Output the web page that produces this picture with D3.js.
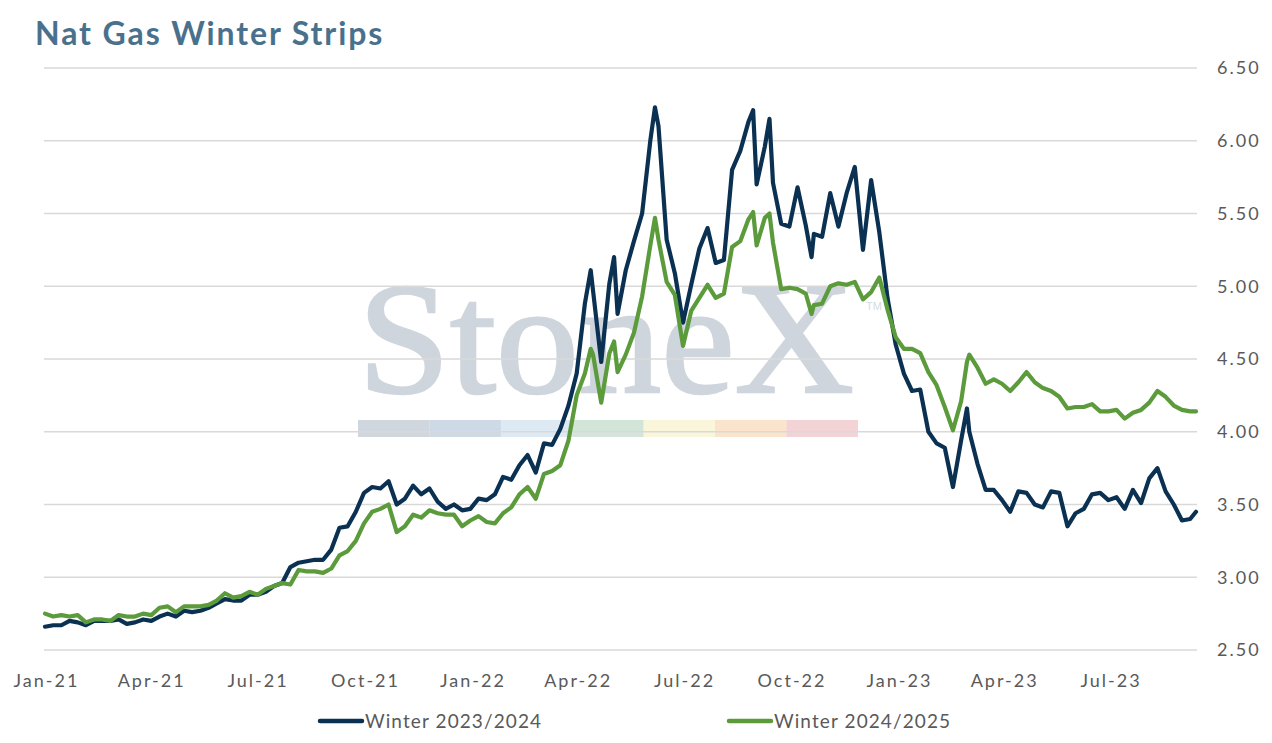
<!DOCTYPE html>
<html>
<head>
<meta charset="utf-8">
<script src="https://cdn.jsdelivr.net/npm/d3@7"></script>
<style>
  body { margin: 0; background: #fff; }
  svg { display: block; font-family: Lato, "Open Sans", sans-serif; }
</style>
</head>
<body>
<div id="chart"></div>
<script>
// Nat gas winter strips, weekly closes (plus a few extremes)

const dates = [
  '2021-01-01','2021-01-08','2021-01-15','2021-01-22','2021-01-29','2021-02-05','2021-02-12','2021-02-19','2021-02-26','2021-03-05',
  '2021-03-12','2021-03-19','2021-03-26','2021-04-02','2021-04-09','2021-04-16','2021-04-23','2021-04-30','2021-05-07','2021-05-14',
  '2021-05-21','2021-05-28','2021-06-04','2021-06-11','2021-06-18','2021-06-25','2021-07-02','2021-07-09','2021-07-16','2021-07-23',
  '2021-07-30','2021-08-06','2021-08-13','2021-08-20','2021-08-27','2021-09-03','2021-09-10','2021-09-17','2021-09-24','2021-10-01',
  '2021-10-08','2021-10-15','2021-10-22','2021-10-29','2021-11-05','2021-11-12','2021-11-19','2021-11-26','2021-12-03','2021-12-10',
  '2021-12-17','2021-12-24','2021-12-31','2022-01-07','2022-01-14','2022-01-21','2022-01-28','2022-02-04','2022-02-11','2022-02-18',
  '2022-02-25','2022-03-04','2022-03-11','2022-03-18','2022-03-25','2022-04-01','2022-04-08','2022-04-13','2022-04-15','2022-04-22',
  '2022-04-29','2022-05-03','2022-05-06','2022-05-13','2022-05-20','2022-05-27','2022-06-03','2022-06-07','2022-06-10','2022-06-17',
  '2022-06-24','2022-07-01','2022-07-08','2022-07-15','2022-07-22','2022-07-29','2022-08-05','2022-08-12','2022-08-19','2022-08-26',
  '2022-08-30','2022-09-02','2022-09-09','2022-09-13','2022-09-16','2022-09-23','2022-09-30','2022-10-07','2022-10-14','2022-10-19',
  '2022-10-21','2022-10-28','2022-11-04','2022-11-11','2022-11-18','2022-11-25','2022-12-02','2022-12-09','2022-12-16','2022-12-23',
  '2022-12-30','2023-01-06','2023-01-13','2023-01-20','2023-01-27','2023-02-03','2023-02-10','2023-02-17','2023-02-24','2023-03-01',
  '2023-03-03','2023-03-10','2023-03-17','2023-03-24','2023-03-31','2023-04-07','2023-04-14','2023-04-21','2023-04-28','2023-05-05',
  '2023-05-12','2023-05-19','2023-05-26','2023-06-02','2023-06-09','2023-06-16','2023-06-23','2023-06-30','2023-07-07','2023-07-14',
  '2023-07-21','2023-07-28','2023-08-04','2023-08-11','2023-08-18','2023-08-25','2023-09-01','2023-09-08','2023-09-13'
];

const winter2324 = [
  2.66, 2.67, 2.67, 2.70, 2.69, 2.67, 2.70, 2.70, 2.70, 2.71,
  2.68, 2.69, 2.71, 2.70, 2.73, 2.75, 2.73, 2.77, 2.76, 2.77,
  2.79, 2.82, 2.85, 2.84, 2.84, 2.88, 2.88, 2.90, 2.94, 2.96,
  3.07, 3.10, 3.11, 3.12, 3.12, 3.19, 3.34, 3.35, 3.45, 3.58,
  3.62, 3.61, 3.66, 3.50, 3.54, 3.63, 3.57, 3.61, 3.52, 3.47,
  3.50, 3.46, 3.47, 3.54, 3.53, 3.57, 3.69, 3.67, 3.77, 3.84,
  3.72, 3.92, 3.91, 4.02, 4.18, 4.40, 4.88, 5.11, 4.97, 4.48,
  5.02, 5.20, 4.81, 5.11, 5.31, 5.50, 6.00, 6.23, 6.10, 5.32,
  5.09, 4.75, 5.01, 5.26, 5.40, 5.16, 5.18, 5.80, 5.93, 6.13,
  6.21, 5.70, 5.96, 6.15, 5.71, 5.43, 5.41, 5.68, 5.42, 5.20,
  5.36, 5.34, 5.64, 5.41, 5.64, 5.82, 5.25, 5.73, 5.37, 4.92,
  4.60, 4.40, 4.28, 4.29, 4.00, 3.92, 3.89, 3.62, 3.94, 4.16,
  4.00, 3.78, 3.60, 3.60, 3.53, 3.45, 3.59, 3.58, 3.50, 3.48,
  3.59, 3.58, 3.35, 3.44, 3.47, 3.57, 3.58, 3.53, 3.55, 3.47,
  3.60, 3.51, 3.68, 3.75, 3.59, 3.50, 3.39, 3.40, 3.45
];

const winter2425 = [
  2.75, 2.73, 2.74, 2.73, 2.74, 2.69, 2.71, 2.71, 2.70, 2.74,
  2.73, 2.73, 2.75, 2.74, 2.79, 2.80, 2.76, 2.80, 2.80, 2.80,
  2.81, 2.84, 2.89, 2.86, 2.87, 2.90, 2.88, 2.92, 2.94, 2.96,
  2.95, 3.05, 3.04, 3.04, 3.03, 3.06, 3.15, 3.18, 3.25, 3.37,
  3.45, 3.47, 3.50, 3.31, 3.35, 3.43, 3.41, 3.46, 3.44, 3.43,
  3.43, 3.35, 3.39, 3.42, 3.38, 3.37, 3.44, 3.48, 3.57, 3.62,
  3.54, 3.71, 3.73, 3.77, 3.94, 4.25, 4.40, 4.57, 4.53, 4.20,
  4.54, 4.62, 4.41, 4.53, 4.68, 4.93, 5.28, 5.47, 5.32, 5.03,
  4.94, 4.59, 4.83, 4.92, 5.01, 4.92, 4.95, 5.27, 5.31, 5.46,
  5.51, 5.28, 5.47, 5.50, 5.30, 4.98, 4.99, 4.98, 4.95, 4.81,
  4.87, 4.88, 5.00, 5.02, 5.01, 5.03, 4.91, 4.96, 5.06, 4.84,
  4.65, 4.57, 4.57, 4.54, 4.41, 4.32, 4.17, 4.01, 4.21, 4.48,
  4.53, 4.44, 4.33, 4.36, 4.33, 4.28, 4.34, 4.41, 4.34, 4.30,
  4.28, 4.24, 4.16, 4.17, 4.17, 4.19, 4.14, 4.14, 4.15, 4.09,
  4.13, 4.15, 4.20, 4.28, 4.24, 4.18, 4.15, 4.14, 4.14
];

const seriesNames = ['Winter 2023/2024', 'Winter 2024/2025'];
const seriesColors = ['#0b3152', '#5b9b3b'];

const tickDates = ['2021-01-01','2021-04-01','2021-07-01','2021-10-01','2022-01-01','2022-04-01',
                   '2022-07-01','2022-10-01','2023-01-01','2023-04-01','2023-07-01'];
const yTicks = [2.5, 3.0, 3.5, 4.0, 4.5, 5.0, 5.5, 6.0, 6.5];

(function() {
  const W = 1272, H = 743;
  const plot = { left: 44, right: 1197, top: 68, bottom: 650 };
  const parse = d3.timeParse('%Y-%m-%d');

  const svg = d3.select('#chart').append('svg')
    .attr('width', W)
    .attr('height', H);

  // x: first date sits at 45, the last one near the right end of the grid
  const x = d3.scaleTime()
    .domain([parse(dates[0]), parse(dates[dates.length - 1])])
    .range([45, 1196]);

  const y = d3.scaleLinear()
    .domain([2.5, 6.5])
    .range([plot.bottom, plot.top]);

  // Title
  svg.append('text')
    .attr('x', 35)
    .attr('y', 45)
    .style('font-size', '32px')
    .style('font-weight', 'bold')
    .style('letter-spacing', '1.9px')
    .style('fill', '#4a718c')
    .text('Nat Gas Winter Strips');

  // StoneX watermark
  const wm = svg.append('g').attr('class', 'watermark');
  wm.append('text')
    .attr('x', 358)
    .attr('y', 392)
    .attr('textLength', 496)
    .attr('lengthAdjust', 'spacingAndGlyphs')
    .style('font-family', '"Liberation Serif", "DejaVu Serif", serif')
    .style('font-size', '158px')
    .style('fill', '#cfd5dd')
    .style('stroke', '#cfd5dd')
    .style('stroke-width', 2.5)
    .text('StoneX');
  wm.append('text')
    .attr('x', 866)
    .attr('y', 310)
    .style('font-family', '"Liberation Sans", sans-serif')
    .style('font-size', '11px')
    .style('fill', '#d6dbe2')
    .text('TM');
  const bandColors = ['#d0d6dd', '#cdd9e5', '#deeaf3', '#d3e4d8', '#faf6dc', '#fae5cc', '#f3d3d5'];
  wm.selectAll('rect')
    .data(bandColors)
    .enter()
    .append('rect')
    .attr('x', (d, i) => 358 + i * 71.4)
    .attr('y', 420)
    .attr('width', 71.6)
    .attr('height', 17)
    .attr('fill', d => d);

  // Horizontal grid
  svg.append('g')
    .selectAll('line')
    .data(yTicks)
    .enter()
    .append('line')
    .attr('x1', plot.left)
    .attr('x2', plot.right)
    .attr('y1', d => y(d))
    .attr('y2', d => y(d))
    .attr('stroke', '#d9d9d9')
    .attr('stroke-width', 1.5);

  // Right value axis
  const yAxis = svg.append('g')
    .attr('transform', 'translate(1217, 0)')
    .call(d3.axisRight(y).tickValues(yTicks).tickFormat(d3.format('.2f')).tickSize(0).tickPadding(0));
  yAxis.select('.domain').remove();
  yAxis.selectAll('text')
    .style('font-family', 'Lato, "Open Sans", sans-serif')
    .style('font-size', '18px')
    .style('letter-spacing', '2px')
    .style('fill', '#595959');

  // Bottom date axis
  const xAxis = svg.append('g')
    .attr('transform', `translate(1, ${plot.bottom + 24})`)
    .call(d3.axisBottom(x).tickValues(tickDates.map(parse)).tickFormat(d3.timeFormat('%b-%y')).tickSize(0).tickPadding(0));
  xAxis.select('.domain').remove();
  xAxis.selectAll('text')
    .style('font-family', 'Lato, "Open Sans", sans-serif')
    .style('font-size', '18px')
    .style('letter-spacing', '2px')
    .style('fill', '#595959');

  // Series
  const line = d3.line()
    .x(d => x(d.date))
    .y(d => y(d.value));

  [winter2324, winter2425].forEach((vals, k) => {
    const pts = dates.map((d, i) => ({ date: parse(d), value: vals[i] }));
    svg.append('path')
      .datum(pts)
      .attr('fill', 'none')
      .attr('stroke', seriesColors[k])
      .attr('stroke-width', 4.2)
      .attr('stroke-linejoin', 'round')
      .attr('stroke-linecap', 'round')
      .attr('d', line);
  });

  // Legend
  const legendX = [318, 727];
  const legend = svg.append('g').attr('class', 'legend');
  const items = legend.selectAll('g')
    .data(seriesNames)
    .enter()
    .append('g')
    .attr('transform', (d, i) => `translate(${legendX[i]}, 721)`);
  items.append('line')
    .attr('x1', 2)
    .attr('x2', 44)
    .attr('stroke', (d, i) => seriesColors[i])
    .attr('stroke-width', 4.5)
    .attr('stroke-linecap', 'round');
  items.append('text')
    .attr('x', 47)
    .attr('y', 7)
    .style('font-size', '19px')
    .style('letter-spacing', '1.1px')
    .style('fill', '#595959')
    .text(d => d);
})();
</script>
</body>
</html>
